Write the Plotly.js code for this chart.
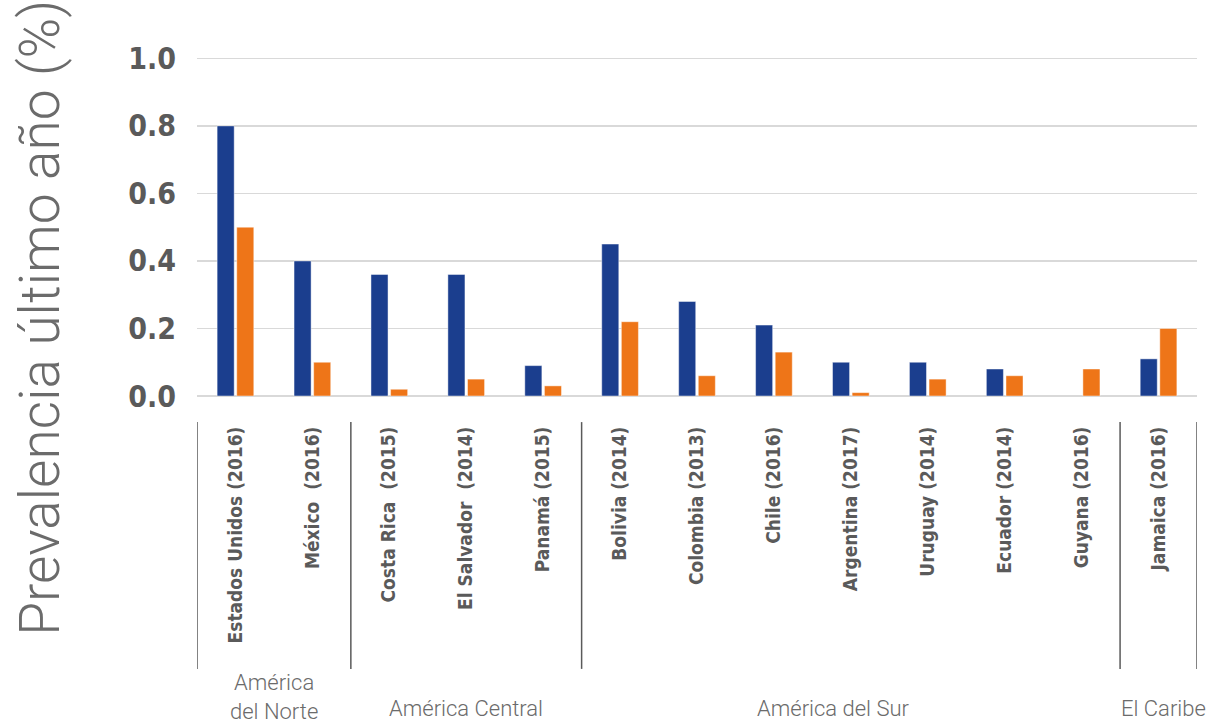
<!DOCTYPE html>
<html>
<head>
<meta charset="utf-8">
<script src="https://cdn.plot.ly/plotly-3.0.1.min.js"></script>
<style>html,body{margin:0;padding:0;background:#fff;}#chart{width:1214px;height:723px;}</style>
</head>
<body>
<div id="chart"></div>
<script>
const categories = [
  "Estados Unidos (2016)", "México\u00a0 (2016)", "Costa Rica\u00a0 (2015)", "El Salvador\u00a0 (2014)",
  "Panamá (2015)", "Bolivia (2014)", "Colombia (2013)", "Chile (2016)", "Argentina (2017)",
  "Uruguay (2014)", "Ecuador (2014)", "Guyana (2016)", "Jamaica (2016)"
];
const seriesBlue = [0.80, 0.40, 0.36, 0.36, 0.09, 0.45, 0.28, 0.21, 0.10, 0.10, 0.08, null, 0.11];
const seriesOrange = [0.50, 0.10, 0.02, 0.05, 0.03, 0.22, 0.06, 0.13, 0.01, 0.05, 0.06, 0.08, 0.20];
const groupNames = ["América<br>del Norte", "América Central", "América del Sur", "El Caribe"];
const groupSizes = [2, 3, 7, 1];
const yTickVals = [0, 0.2, 0.4, 0.6, 0.8, 1.0];
const yTickText = ["0.0", "0.2", "0.4", "0.6", "0.8", "1.0"];

const idx = categories.map((_, i) => i);
const catFont = {family: "DejaVu Sans Condensed, sans-serif", size: 19, color: "#5a5a5a", weight: 700};

const traces = [
  {type: "bar", x: idx, y: seriesBlue, marker: {color: "#1b3e8e", line: {color: "rgba(255,255,255,0.45)", width: 1}}, hoverinfo: "y"},
  {type: "bar", x: idx, y: seriesOrange, marker: {color: "#ee7518", line: {color: "rgba(255,255,255,0.45)", width: 1}}, hoverinfo: "y"}
];

const shapes = [];
const annotations = [];
let start = 0;
const boundaries = [-0.5];
const shifts = [0, 0, -17, 5];
groupSizes.forEach((n, g) => {
  const end = start + n;
  boundaries.push(end - 0.5);
  const mid = (start + end - 1) / 2;
  annotations.push({
    x: mid, xref: "x", y: g === 0 ? -0.888 : -0.923, yref: "paper",
    text: groupNames[g], showarrow: false, xshift: shifts[g],
    font: {family: "Roboto, sans-serif", size: 22, color: "#6b6b6b", weight: 300},
    xanchor: "center", yanchor: "middle"
  });
  start = end;
});
boundaries.forEach(b => {
  shapes.push({type: "line", xref: "x", yref: "paper", x0: b, x1: b, y0: -0.077, y1: -0.805,
    line: {color: "#5a5a5a", width: 1.5}});
});
annotations.push({
  x: (40 - 197) / 1000, xref: "paper", y: (396 - 318) / 338, yref: "paper",
  text: "Prevalencia último año (%)",
  showarrow: false, textangle: -90, xanchor: "center", yanchor: "middle",
  font: {family: "Roboto, sans-serif", size: 55, color: "#6b6b6b", weight: 300}
});

const layout = {
  width: 1214, height: 723,
  margin: {l: 197, r: 17, t: 57, b: 327},
  paper_bgcolor: "#ffffff", plot_bgcolor: "#ffffff",
  showlegend: false,
  barmode: "group", bargap: 0.49, bargroupgap: 0.13,
  xaxis: {
    range: [-0.5, categories.length - 0.5],
    tickmode: "array", tickvals: idx, ticktext: categories,
    tickangle: -90, tickfont: catFont,
    ticks: "outside", ticklen: 22, tickcolor: "rgba(0,0,0,0)",
    showgrid: false, zeroline: false, showline: false
  },
  yaxis: {
    range: [0, 1.004],
    tickmode: "array", tickvals: yTickVals, ticktext: yTickText,
    tickfont: {family: "DejaVu Sans Condensed, sans-serif", size: 30, color: "#5a5a5a", weight: 700},
    ticks: "outside", ticklen: 14, tickcolor: "rgba(0,0,0,0)",
    showgrid: true, gridcolor: "#d9d9d9", gridwidth: 1.5,
    zeroline: true, zerolinecolor: "#d9d9d9", zerolinewidth: 1.5,
    showline: false
  },
  shapes: shapes,
  annotations: annotations
};

Plotly.newPlot("chart", traces, layout, {displayModeBar: false, staticPlot: true});
</script>
</body>
</html>
